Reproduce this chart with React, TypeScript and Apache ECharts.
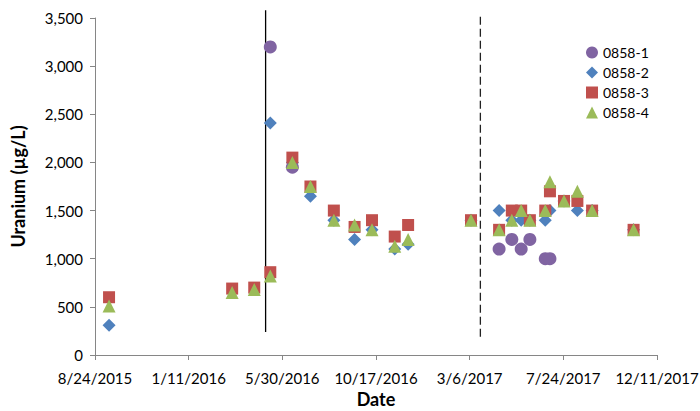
import React, { useEffect, useRef } from "react";
import * as echarts from "echarts";

// ---- Data ----
const AXIS_START = "2015-08-24"; // first tick of the date axis
const X_MAX_DAYS = 840; // 12/11/2017
const X_INTERVAL_DAYS = 140;
const Y_MIN = 0;
const Y_MAX = 3500;
const Y_INTERVAL = 500;

const SERIES_NAMES = ["0858-1", "0858-2", "0858-3", "0858-4"];
const SERIES_COLORS = ["#8064A2", "#4F81BD", "#C0504D", "#9BBB59"];
const SERIES_SYMBOLS = ["circle", "diamond", "rect", "triangle"];
const SERIES_SIZES = [13, 13, 12, 13];

const DATES_1 = ["2016-05-12", "2016-06-14", "2017-04-19", "2017-05-08", "2017-05-22", "2017-06-04", "2017-06-27", "2017-07-04"];
const VALUES_1 = [3200, 1950, 1100, 1200, 1100, 1200, 1000, 1000];

const DATES_2 = ["2015-09-14", "2016-05-12", "2016-06-14", "2016-07-11", "2016-08-15", "2016-09-15", "2016-10-11", "2016-11-14", "2016-12-04", "2017-03-08", "2017-04-19", "2017-05-08", "2017-05-22", "2017-06-04", "2017-06-27", "2017-07-04", "2017-07-25", "2017-08-14", "2017-09-05", "2017-11-06"];
const VALUES_2 = [310, 2410, 2000, 1650, 1400, 1200, 1300, 1100, 1150, 1400, 1500, 1400, 1400, 1400, 1400, 1500, 1600, 1500, 1500, 1300];

const DATES_34 = ["2015-09-14", "2016-03-16", "2016-04-18", "2016-05-12", "2016-06-14", "2016-07-11", "2016-08-15", "2016-09-15", "2016-10-11", "2016-11-14", "2016-12-04", "2017-03-08", "2017-04-19", "2017-05-08", "2017-05-22", "2017-06-04", "2017-06-27", "2017-07-04", "2017-07-25", "2017-08-14", "2017-09-05", "2017-11-06"];
const VALUES_3 = [600, 690, 700, 860, 2050, 1750, 1500, 1330, 1400, 1230, 1350, 1400, 1300, 1500, 1500, 1400, 1500, 1700, 1600, 1600, 1500, 1300];
const VALUES_4 = [510, 650, 680, 820, 2000, 1750, 1400, 1350, 1300, 1130, 1200, 1400, 1300, 1400, 1500, 1400, 1500, 1800, 1600, 1700, 1500, 1300];

// vertical reference lines
const SOLID_LINE_DATE = "2016-05-05";
const SOLID_LINE_RANGE = [240, 3580];
const DASHED_LINE_DATE = "2017-03-22";
const DASHED_LINE_RANGE = [190, 3530];

const DAY_MS = 86400000;
function toUTC(s: string): number {
  const [y, m, d] = s.split("-").map(Number);
  return Date.UTC(y, m - 1, d);
}
const START_MS = toUTC(AXIS_START);
function dayOffset(s: string): number {
  return Math.round((toUTC(s) - START_MS) / DAY_MS);
}
function pairs(dates: string[], values: number[]) {
  return dates.map((d, i) => [dayOffset(d), values[i]]);
}

const FONT = "Lato, sans-serif";

export default function App() {
  const ref = useRef<HTMLDivElement>(null);
  useEffect(() => {
    if (!ref.current) return;
    const chart = echarts.init(ref.current, undefined, { renderer: "svg" });
    const seriesData = [
      pairs(DATES_1, VALUES_1),
      pairs(DATES_2, VALUES_2),
      pairs(DATES_34, VALUES_3),
      pairs(DATES_34, VALUES_4),
    ];
    const scatter = SERIES_NAMES.map((name, i) => ({
      name,
      type: "scatter",
      data: seriesData[i],
      symbol: SERIES_SYMBOLS[i],
      symbolSize: SERIES_SIZES[i],
      itemStyle: { color: SERIES_COLORS[i], opacity: 1 },
      z: 3 + i,
    }));
    const vlines = [
      {
        type: "line",
        data: [
          [dayOffset(SOLID_LINE_DATE), SOLID_LINE_RANGE[0]],
          [dayOffset(SOLID_LINE_DATE), SOLID_LINE_RANGE[1]],
        ],
        symbol: "none",
        clip: false,
        lineStyle: { color: "#000", width: 1.3, type: "solid" },
        z: 2,
        silent: true,
      },
      {
        type: "line",
        data: [
          [dayOffset(DASHED_LINE_DATE), DASHED_LINE_RANGE[0]],
          [dayOffset(DASHED_LINE_DATE), DASHED_LINE_RANGE[1]],
        ],
        symbol: "none",
        clip: false,
        lineStyle: { color: "#222", width: 1.3, type: [8, 4] },
        z: 2,
        silent: true,
      },
    ];
    chart.setOption({
      animation: false,
      backgroundColor: "#fff",
      textStyle: { fontFamily: FONT },
      grid: {
        left: 95,
        right: 43,
        top: 18,
        bottom: 56,
        containLabel: false,
        outerBoundsMode: "none",
      },
      legend: {
        data: SERIES_NAMES,
        orient: "vertical",
        left: 586,
        top: 44,
        padding: 0,
        itemWidth: 12,
        itemHeight: 12,
        itemGap: 3,
        textStyle: { fontFamily: FONT, fontSize: 14, lineHeight: 17, color: "#000" },
      },
      xAxis: {
        type: "value",
        min: 0,
        max: X_MAX_DAYS,
        interval: X_INTERVAL_DAYS,
        name: "Date",
        nameLocation: "middle",
        nameGap: 35,
        nameTextStyle: { fontFamily: FONT, fontSize: 18, fontWeight: "bold", color: "#000" },
        axisLine: { show: true, lineStyle: { color: "#868686", width: 1 } },
        axisTick: { show: true, length: 5, lineStyle: { color: "#868686" } },
        splitLine: { show: false },
        axisLabel: {
          margin: 15,
          fontSize: 15,
          color: "#000",
          fontFamily: FONT,
          hideOverlap: false,
          formatter: (v: number) => {
            const d = new Date(START_MS + v * DAY_MS);
            return `${d.getUTCMonth() + 1}/${d.getUTCDate()}/${d.getUTCFullYear()}`;
          },
        },
      },
      yAxis: {
        type: "value",
        min: Y_MIN,
        max: Y_MAX,
        interval: Y_INTERVAL,
        name: "Uranium (µg/L)",
        nameLocation: "middle",
        nameGap: 68,
        nameTextStyle: { fontFamily: FONT, fontSize: 18, fontWeight: "bold", color: "#000" },
        axisLine: { show: true, lineStyle: { color: "#868686", width: 1 } },
        axisTick: { show: true, length: 5, lineStyle: { color: "#868686" } },
        splitLine: { show: false },
        axisLabel: {
          margin: 12,
          fontSize: 15,
          color: "#000",
          fontFamily: FONT,
          formatter: (v: number) => v.toLocaleString("en-US"),
        },
      },
      series: [...vlines, ...scatter],
    });
    return () => chart.dispose();
  }, []);
  return (
    <div
      ref={ref}
      style={{ position: "fixed", left: 0, top: 0, width: 700, height: 411 }}
    />
  );
}
